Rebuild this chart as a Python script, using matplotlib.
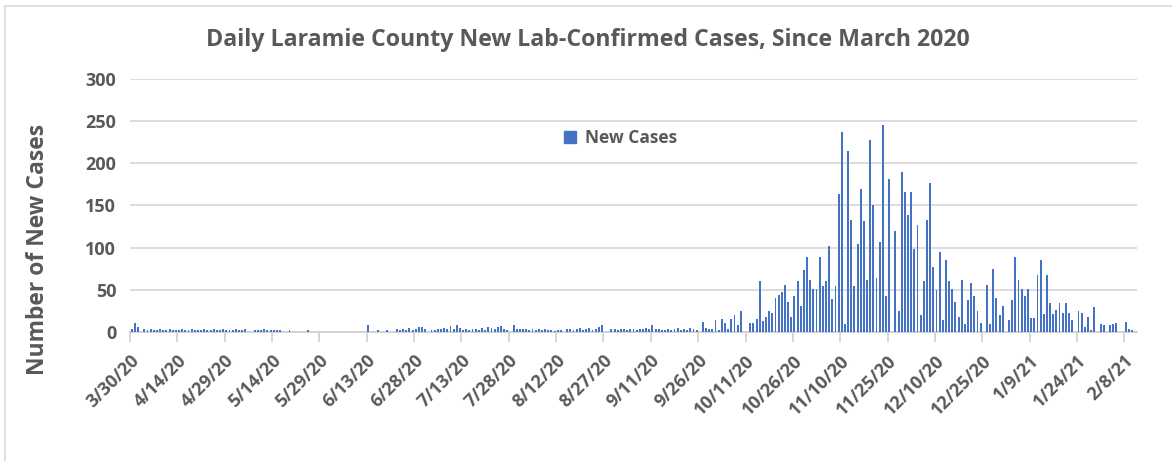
import pandas as pd
import matplotlib.pyplot as plt
from matplotlib.lines import Line2D

# daily new cases, one list per month (first value of mar_2020 is 3/30/20)
mar_2020 = [3, 10]
apr_2020 = [6, 0, 4, 2, 3, 2, 2, 3, 2, 2, 3, 2, 2, 2, 3, 2, 2, 3, 2, 2,
            2, 3, 2, 2, 3, 2, 2, 3, 2, 2]
may_2020 = [2, 3, 2, 2, 4, 0, 0, 2, 2, 2, 3, 2, 2, 2, 2, 2, 0, 0, 2, 0,
            0, 0, 0, 0, 2, 0, 0, 0, 0, 0, 0]
jun_2020 = [0, 0, 0, 0, 0, 0, 0, 0, 0, 0, 0, 0, 8, 0, 0, 2, 0, 0, 2, 0,
            0, 3, 2, 4, 2, 5, 2, 3, 6, 6]
jul_2020 = [3, 0, 2, 2, 3, 4, 5, 4, 7, 3, 8, 5, 2, 3, 2, 3, 4, 2, 5, 2,
            6, 5, 3, 6, 7, 3, 2, 0, 8, 4, 3]
aug_2020 = [4, 3, 2, 3, 2, 4, 2, 3, 2, 2, 1, 2, 2, 0, 4, 3, 2, 3, 5, 2,
            3, 5, 2, 4, 6, 8, 0, 0, 3, 3, 2]
sep_2020 = [3, 4, 2, 4, 3, 2, 4, 3, 5, 3, 8, 4, 3, 2, 2, 3, 2, 3, 5, 2,
            3, 2, 5, 4, 2, 0, 12, 5, 3, 4]
oct_2020 = [14, 2, 15, 10, 3, 15, 20, 8, 25, 0, 0, 10, 10, 15, 60, 13, 18, 25, 23, 40,
            44, 47, 56, 36, 18, 42, 60, 31, 73, 89, 62]
nov_2020 = [51, 51, 89, 54, 60, 102, 39, 54, 164, 237, 9, 214, 133, 54, 104, 170, 131, 62, 227, 150,
            64, 106, 245, 43, 181, 0, 120, 25, 190, 166]
dec_2020 = [139, 166, 98, 127, 20, 60, 133, 177, 77, 50, 95, 14, 85, 60, 51, 36, 18, 62, 9, 38,
            58, 43, 25, 10, 0, 56, 9, 75, 40, 20, 31]
jan_2021 = [0, 14, 38, 89, 62, 51, 42, 51, 16, 16, 67, 85, 21, 67, 34, 21, 26, 34, 22, 34,
            22, 14, 0, 25, 23, 6, 18, 2, 29, 0, 9]
feb_2021 = [8, 0, 8, 9, 11, 0, 0, 12, 4, 2]

tick_labels = ['3/30/20', '4/14/20', '4/29/20', '5/14/20', '5/29/20', '6/13/20',
               '6/28/20', '7/13/20', '7/28/20', '8/12/20', '8/27/20', '9/11/20',
               '9/26/20', '10/11/20', '10/26/20', '11/10/20', '11/25/20', '12/10/20',
               '12/25/20', '1/9/21', '1/24/21', '2/8/21']

new_cases = (mar_2020 + apr_2020 + may_2020 + jun_2020 + jul_2020 + aug_2020 +
             sep_2020 + oct_2020 + nov_2020 + dec_2020 + jan_2021 + feb_2021)
dates = pd.date_range('2020-03-30', periods=len(new_cases), freq='D')
ticks = pd.to_datetime(tick_labels, format='%m/%d/%y')

plt.rcParams['font.family'] = ['Open Sans', 'DejaVu Sans']
grey = '#595959'
blue = '#4472C4'

fig = plt.figure(figsize=(11.72, 4.61), dpi=100)
ax = fig.add_axes([0.111, 0.280, 0.859, 0.549])

ax.bar(dates + pd.Timedelta(hours=5), new_cases, width=0.6, align='edge',
       color=blue, zorder=3)

ax.set_ylim(0, 300)
ax.set_yticks(range(0, 301, 50))
ax.set_xlim(ticks[0], pd.Timestamp('2021-02-12'))
ax.set_xticks(ticks)
ax.set_xticklabels(tick_labels, rotation=45, ha='right', rotation_mode='anchor')

ax.grid(axis='y', color='#D9D9D9', linewidth=1.3, zorder=0)
for s in ['top', 'right', 'left']:
    ax.spines[s].set_visible(False)
ax.spines['bottom'].set_color('#D0D0D0')
ax.spines['bottom'].set_linewidth(1.3)
ax.tick_params(axis='x', direction='out', length=7, width=1.2, color='#D0D0D0',
               pad=7, labelsize=13, labelcolor=grey)
ax.tick_params(axis='y', length=0, pad=10, labelsize=13, labelcolor=grey)
for lbl in ax.get_xticklabels() + ax.get_yticklabels():
    lbl.set_fontweight('bold')

fig.text(0.502, 0.913, 'Daily Laramie County New Lab-Confirmed Cases, Since March 2020',
         ha='center', va='center', fontsize=16.7, fontweight='bold', color=grey)
fig.text(0.032, 0.46, 'Number of New Cases', rotation=90, ha='center', va='center',
         fontsize=16.5, fontweight='bold', color=grey)

handle = Line2D([], [], marker='s', linestyle='none', color=blue, markersize=8)
ax.legend([handle], ['New Cases'], loc='center left', bbox_to_anchor=(0.424, 0.767),
          frameon=False, handlelength=0.7, handletextpad=0.5, borderaxespad=0,
          prop={'size': 12.5, 'weight': 'bold'}, labelcolor=grey)

# chart-area border (only top and left edges show in the screenshot)
fig.add_artist(Line2D([0.004, 0.004], [0.0, 0.987], color='#D9D9D9', linewidth=1.2))
fig.add_artist(Line2D([0.004, 1.0], [0.987, 0.987], color='#D9D9D9', linewidth=1.2))

fig.savefig('out.png', dpi=100)
